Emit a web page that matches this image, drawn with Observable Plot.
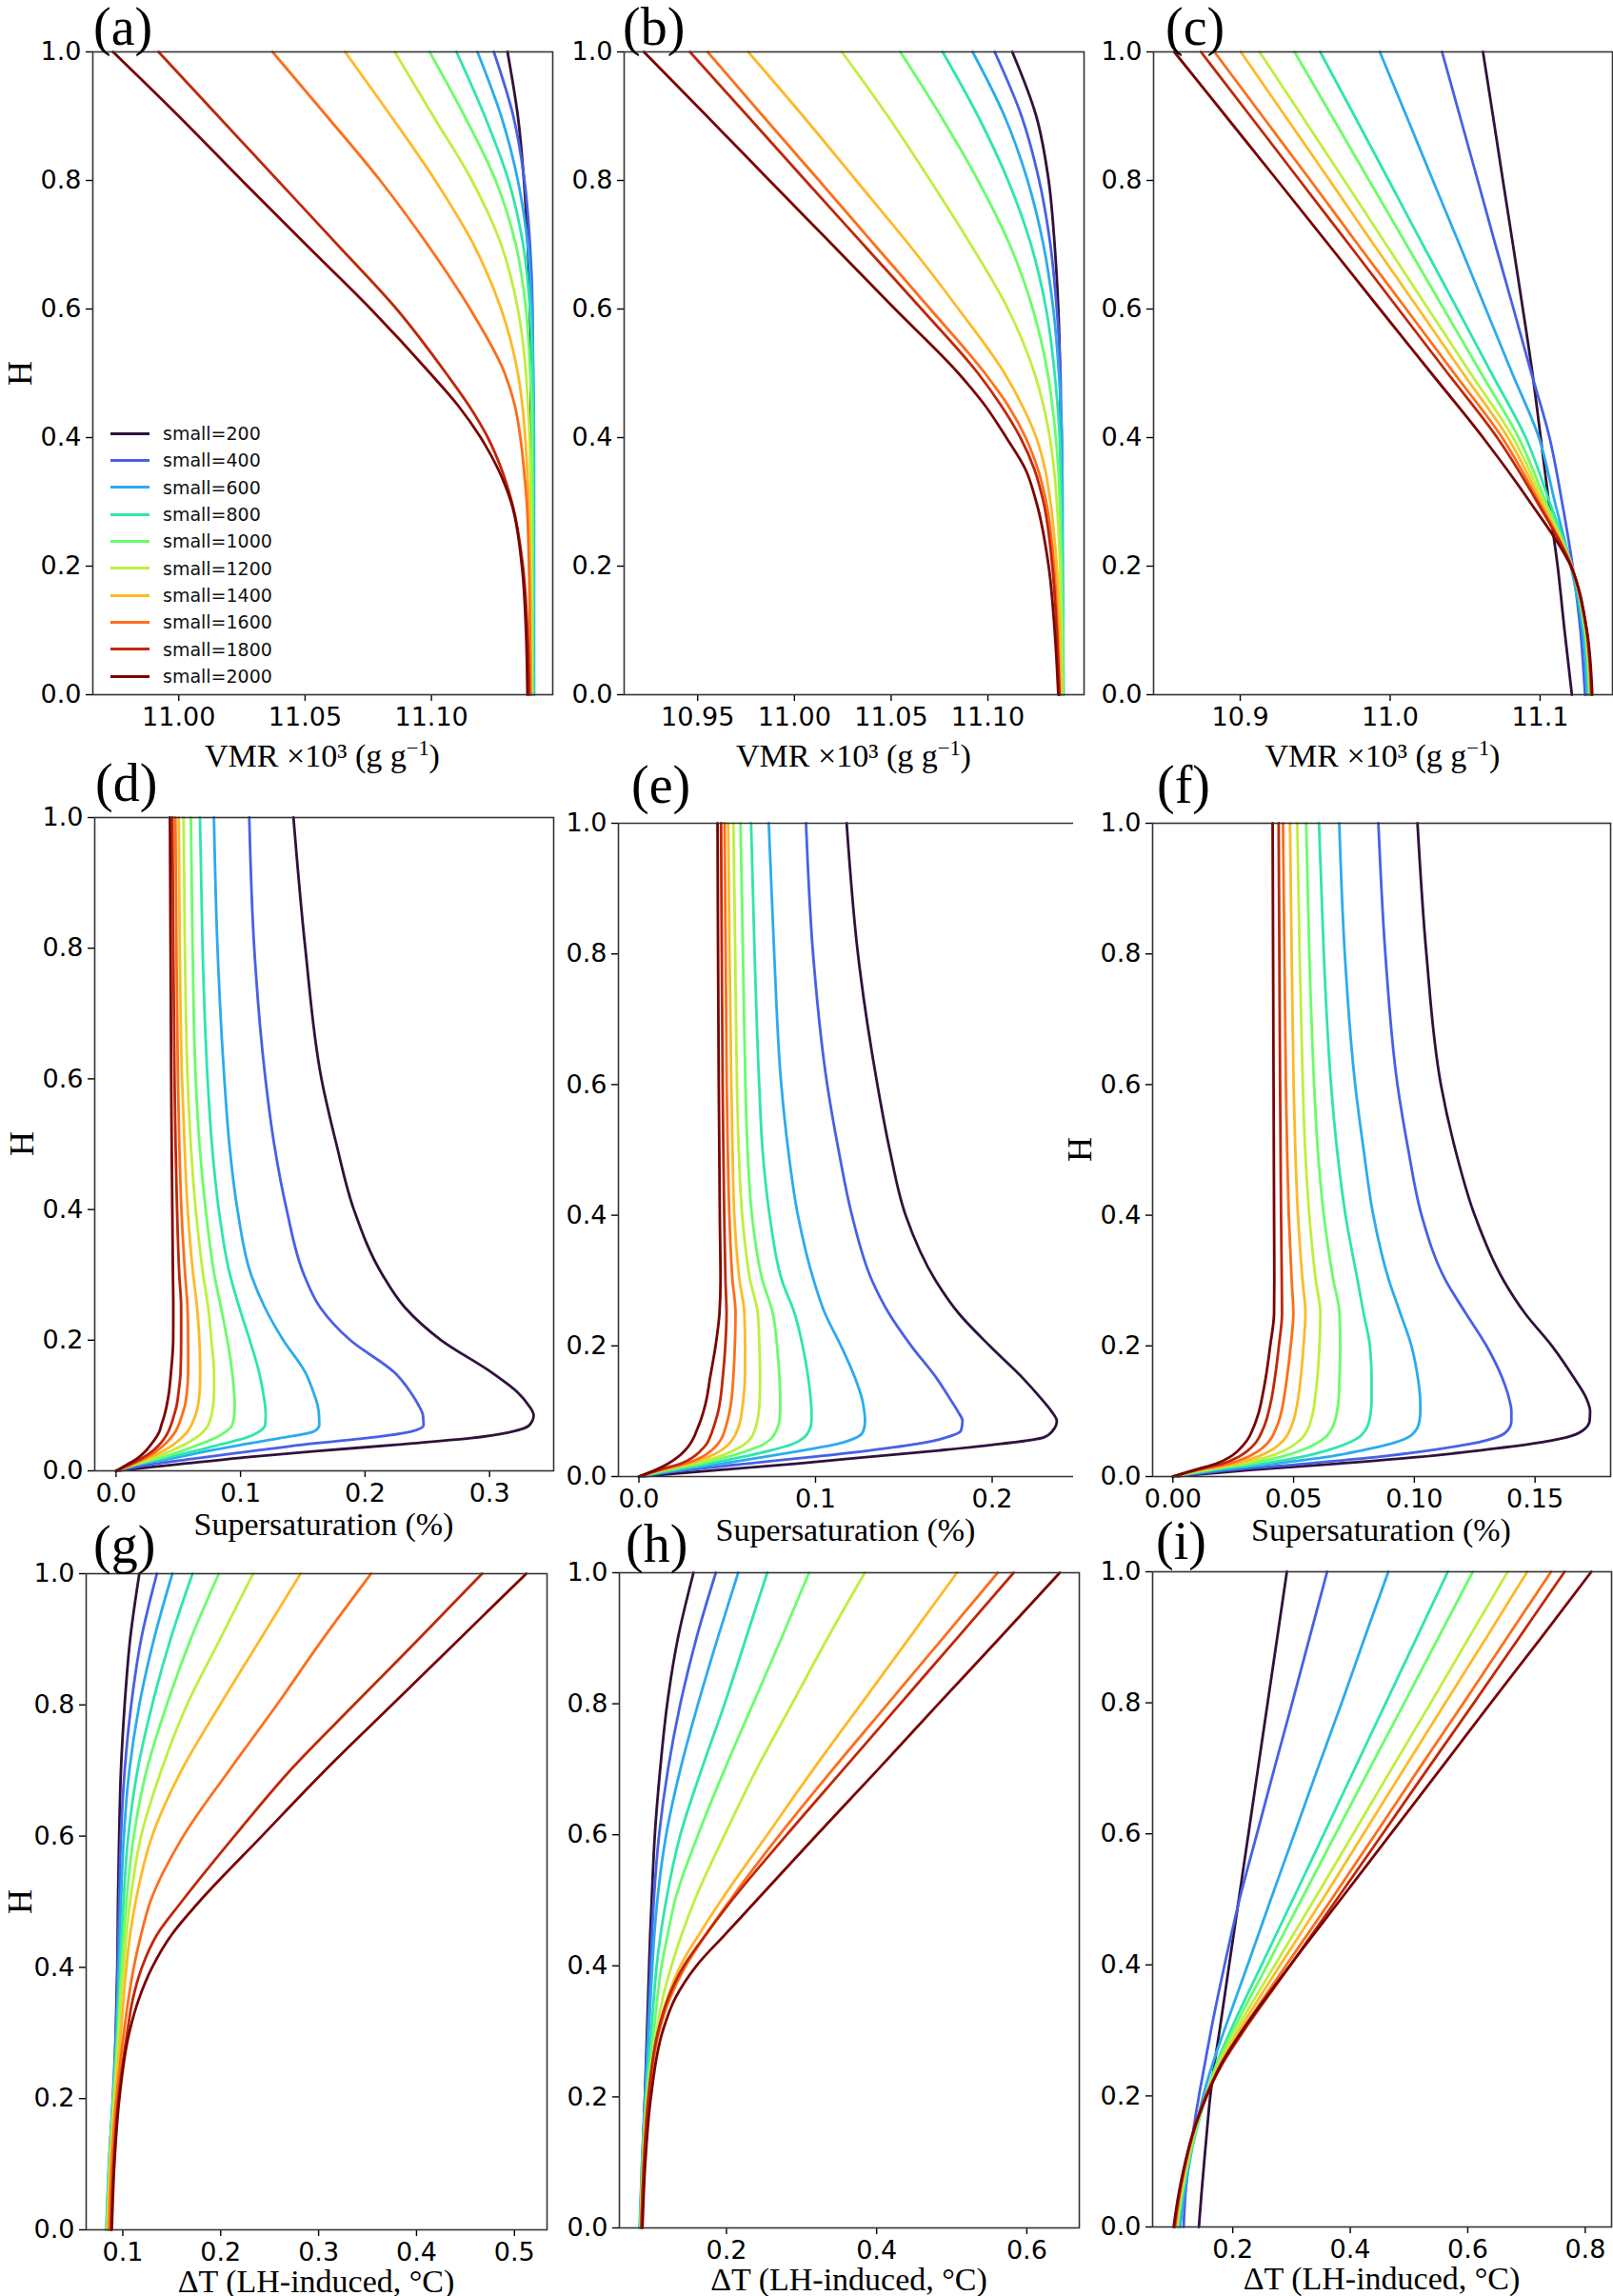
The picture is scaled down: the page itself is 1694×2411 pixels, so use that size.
<!DOCTYPE html>
<html>
<head>
<meta charset="utf-8">
<script src="https://cdn.jsdelivr.net/npm/d3@7"></script>
<script src="https://cdn.jsdelivr.net/npm/@observablehq/plot@0.6"></script>
<style>
  html, body { margin: 0; padding: 0; background: #fff; overflow: hidden; }
  #fig { position: relative; width: 1694px; height: 2411px; background: #fff; }
  .axlbl { position: absolute; font-family: "Liberation Serif", "Times New Roman", serif; font-size: 34px; line-height: 1; color: #000; white-space: nowrap; transform: translate(-50%, -50%); }
  .axlbl .sup { font-size: 0.66em; position: relative; top: -0.55em; }
  .letter { position: absolute; font-family: "Liberation Serif", "Times New Roman", serif; font-size: 56px; line-height: 1; color: #000; transform: translate(0, -50%); }
  .legtxt { position: absolute; font-family: "DejaVu Sans", sans-serif; font-size: 19px; line-height: 1; color: #111; transform: translate(0, -50%); white-space: nowrap; }
  .legline { position: absolute; height: 0; width: 41px; }
</style>
</head>
<body>
<div id="fig"></div>
<script>
const smalls = [200, 400, 600, 800, 1000, 1200, 1400, 1600, 1800, 2000]
const lineColors = ['#30123b', '#4860e6', '#2aabee', '#2ee5ae', '#6afd6a', '#c0ee3e', '#feb927', '#fe6e1a', '#c1270a', '#7a0403']

const hTicks = [0, 0.2, 0.4, 0.6, 0.8, 1.0]

// H levels at which the curves were read
const hVmrAB = [0, 0.1, 0.2, 0.3, 0.35, 0.4, 0.45, 0.5, 0.6, 0.7, 0.8, 0.9, 1.0]
const hVmrC = [0, 0.1, 0.2, 0.3, 0.4, 0.5, 0.6, 0.7, 0.8, 0.9, 1.0]
const hSup = [0, 0.01, 0.02, 0.03, 0.04, 0.05, 0.06, 0.07, 0.085, 0.1, 0.12, 0.15, 0.2, 0.25, 0.3, 0.4, 0.5, 0.6, 0.8, 1.0]
const hDtGH = [0, 0.1, 0.2, 0.3, 0.35, 0.4, 0.45, 0.5, 0.6, 0.7, 0.8, 0.9, 1.0]
const hDtI = [0, 0.05, 0.1, 0.15, 0.2, 0.25, 0.3, 0.4, 0.5, 0.6, 0.7, 0.8, 0.9, 1.0]

// x tick labels
const ticksA = [11.00, 11.05, 11.10]
const ticksB = [10.95, 11.00, 11.05, 11.10]
const ticksC = [10.9, 11.0, 11.1]
const ticksD = [0.0, 0.1, 0.2, 0.3]
const ticksE = [0.0, 0.1, 0.2]
const ticksF = [0.00, 0.05, 0.10, 0.15]
const ticksG = [0.1, 0.2, 0.3, 0.4, 0.5]
const ticksH = [0.2, 0.4, 0.6]
const ticksI = [0.2, 0.4, 0.6, 0.8]

// (a) VMR x10^3, one row per small=200..2000
const vmrA = [
  [11.1395, 11.1395, 11.1395, 11.1395, 11.1395, 11.1395, 11.1394, 11.1394, 11.1390, 11.1381, 11.1366, 11.1342, 11.1301],
  [11.1404, 11.1404, 11.1404, 11.1404, 11.1404, 11.1404, 11.1403, 11.1402, 11.1400, 11.1390, 11.1368, 11.1324, 11.1247],
  [11.1406, 11.1406, 11.1406, 11.1406, 11.1406, 11.1406, 11.1405, 11.1403, 11.1397, 11.1381, 11.1342, 11.1276, 11.1182],
  [11.1403, 11.1403, 11.1403, 11.1403, 11.1403, 11.1403, 11.1402, 11.1400, 11.1390, 11.1363, 11.1305, 11.1211, 11.1099],
  [11.1400, 11.1400, 11.1400, 11.1400, 11.1399, 11.1398, 11.1396, 11.1391, 11.1374, 11.1334, 11.1254, 11.1131, 11.0993],
  [11.1397, 11.1397, 11.1396, 11.1394, 11.1391, 11.1388, 11.1382, 11.1374, 11.1342, 11.1276, 11.1160, 11.1007, 11.0855],
  [11.1394, 11.1392, 11.1390, 11.1385, 11.1379, 11.1371, 11.1360, 11.1342, 11.1276, 11.1167, 11.1015, 11.0840, 11.0658],
  [11.1392, 11.1390, 11.1386, 11.1377, 11.1366, 11.1352, 11.1330, 11.1290, 11.1153, 11.0985, 11.0797, 11.0586, 11.0371],
  [11.1387, 11.1380, 11.1362, 11.1318, 11.1278, 11.1223, 11.1148, 11.1058, 11.0862, 11.0628, 11.0392, 11.0156, 10.9920],
  [11.1380, 11.1374, 11.1358, 11.1315, 11.1265, 11.1195, 11.1105, 11.0995, 11.0760, 11.0504, 11.0250, 11.0000, 10.9740]
]

// (b)
const vmrB = [
  [11.1378, 11.1378, 11.1378, 11.1378, 11.1377, 11.1376, 11.1375, 11.1373, 11.1364, 11.1345, 11.1314, 11.1250, 11.1126],
  [11.1384, 11.1384, 11.1384, 11.1383, 11.1383, 11.1382, 11.1378, 11.1375, 11.1356, 11.1323, 11.1265, 11.1174, 11.1035],
  [11.1391, 11.1389, 11.1387, 11.1386, 11.1384, 11.1382, 11.1376, 11.1367, 11.1338, 11.1287, 11.1205, 11.1086, 11.0921],
  [11.1389, 11.1389, 11.1386, 11.1380, 11.1376, 11.1371, 11.1360, 11.1345, 11.1301, 11.1223, 11.1104, 11.0949, 11.0766],
  [11.1387, 11.1386, 11.1380, 11.1371, 11.1364, 11.1351, 11.1333, 11.1309, 11.1232, 11.1113, 11.0949, 11.0757, 11.0547],
  [11.1384, 11.1380, 11.1373, 11.1356, 11.1342, 11.1320, 11.1287, 11.1241, 11.1104, 11.0912, 11.0702, 11.0483, 11.0245],
  [11.1378, 11.1371, 11.1356, 11.1323, 11.1296, 11.1250, 11.1177, 11.1086, 11.0848, 11.0593, 11.0319, 11.0045, 10.9761],
  [11.1371, 11.1360, 11.1342, 11.1301, 11.1259, 11.1195, 11.1104, 11.0985, 11.0702, 11.0414, 11.0127, 10.9838, 10.9551],
  [11.1369, 11.1356, 11.1333, 11.1287, 11.1241, 11.1168, 11.1068, 11.0949, 11.0657, 11.0357, 11.0057, 10.9759, 10.9460],
  [11.1364, 11.1345, 11.1314, 11.1250, 11.1195, 11.1095, 11.0985, 11.0848, 11.0520, 11.0196, 10.9871, 10.9548, 10.9222]
]

// (c)
const vmrC = [
  [11.1212, 11.1163, 11.1117, 11.1058, 11.1004, 11.0949, 11.0885, 11.0819, 11.0752, 11.0686, 11.0619],
  [11.1300, 11.1269, 11.1217, 11.1146, 11.1063, 11.0942, 11.0823, 11.0702, 11.0584, 11.0465, 11.0346],
  [11.1312, 11.1284, 11.1205, 11.1098, 11.0992, 11.0814, 11.0638, 11.0463, 11.0285, 11.0109, 10.9931],
  [11.1324, 11.1295, 11.1212, 11.1063, 11.0904, 11.0676, 11.0448, 11.0218, 10.9991, 10.9763, 10.9533],
  [11.1331, 11.1300, 11.1212, 11.1039, 11.0856, 11.0607, 11.0358, 11.0109, 10.9860, 10.9611, 10.9362],
  [11.1336, 11.1305, 11.1212, 11.1023, 11.0819, 11.0536, 11.0254, 10.9974, 10.9694, 10.9412, 10.9129],
  [11.1338, 11.1307, 11.1210, 11.1008, 11.0785, 11.0486, 11.0190, 10.9891, 10.9597, 10.9300, 10.9004],
  [11.1340, 11.1310, 11.1208, 11.0992, 11.0747, 11.0427, 11.0107, 10.9786, 10.9469, 10.9148, 10.8828],
  [11.1343, 11.1310, 11.1208, 11.0980, 11.0714, 11.0384, 11.0055, 10.9727, 10.9397, 10.9068, 10.8738],
  [11.1348, 11.1312, 11.1205, 11.0932, 11.0619, 11.0275, 10.9931, 10.9590, 10.9248, 10.8904, 10.8560]
]

// (d) supersaturation %
const supD = [
  [0, 0.050, 0.100, 0.160, 0.225, 0.285, 0.318, 0.332, 0.3354, 0.3315, 0.3226, 0.3021, 0.2611, 0.2320, 0.2140, 0.1910, 0.1770, 0.1650, 0.1520, 0.1425],
  [0, 0.0292, 0.0676, 0.1086, 0.1496, 0.2009, 0.2367, 0.2470, 0.2465, 0.2431, 0.2367, 0.2239, 0.1881, 0.1640, 0.1510, 0.1370, 0.1270, 0.1200, 0.1110, 0.1070],
  [0, 0.0190, 0.0471, 0.0728, 0.1009, 0.1317, 0.1586, 0.1632, 0.1630, 0.1619, 0.1586, 0.1522, 0.1343, 0.1195, 0.1085, 0.0975, 0.0910, 0.0870, 0.0815, 0.0786],
  [0, 0.0164, 0.0395, 0.0625, 0.0830, 0.1035, 0.1150, 0.1197, 0.1202, 0.1197, 0.1181, 0.1150, 0.1074, 0.0990, 0.0915, 0.0825, 0.0770, 0.0735, 0.0695, 0.0674],
  [0, 0.0155, 0.0356, 0.0523, 0.0664, 0.0792, 0.0881, 0.0933, 0.0950, 0.0953, 0.0948, 0.0933, 0.0894, 0.0843, 0.0790, 0.0720, 0.0670, 0.0640, 0.0615, 0.0601],
  [0, 0.0151, 0.0305, 0.0433, 0.0548, 0.0638, 0.0702, 0.0740, 0.0766, 0.0779, 0.0787, 0.0787, 0.0766, 0.0740, 0.0700, 0.0640, 0.0600, 0.0575, 0.0553, 0.0542],
  [0, 0.0138, 0.0266, 0.0374, 0.0459, 0.0523, 0.0574, 0.0605, 0.0638, 0.0658, 0.0671, 0.0676, 0.0669, 0.0651, 0.0620, 0.0575, 0.0550, 0.0530, 0.0512, 0.0503],
  [0, 0.0126, 0.0241, 0.0323, 0.0389, 0.0438, 0.0477, 0.0502, 0.0530, 0.0553, 0.0569, 0.0579, 0.0579, 0.0574, 0.0555, 0.0525, 0.0508, 0.0497, 0.0485, 0.0477],
  [0, 0.0113, 0.0215, 0.0292, 0.0348, 0.0389, 0.0420, 0.0441, 0.0466, 0.0487, 0.0502, 0.0518, 0.0523, 0.0523, 0.0508, 0.0490, 0.0478, 0.0470, 0.0460, 0.0453],
  [0, 0.0092, 0.0177, 0.0236, 0.0279, 0.0318, 0.0348, 0.0364, 0.0389, 0.0407, 0.0425, 0.0441, 0.0459, 0.0460, 0.0457, 0.0452, 0.0447, 0.0443, 0.0438, 0.0433]
]

// (e)
const supE = [
  [0, 0.045, 0.090, 0.130, 0.170, 0.205, 0.2293, 0.2342, 0.2366, 0.2335, 0.2275, 0.2176, 0.1986, 0.1810, 0.1680, 0.1510, 0.1420, 0.1350, 0.1240, 0.1176],
  [0, 0.0275, 0.0619, 0.0981, 0.1307, 0.1578, 0.1741, 0.1823, 0.1832, 0.1805, 0.1759, 0.1687, 0.1542, 0.1415, 0.1320, 0.1206, 0.1130, 0.1066, 0.0986, 0.0946],
  [0, 0.0221, 0.0474, 0.0710, 0.0927, 0.1126, 0.1234, 0.1271, 0.1280, 0.1276, 0.1262, 0.1225, 0.1144, 0.1053, 0.0990, 0.0900, 0.0845, 0.0806, 0.0766, 0.0735],
  [0, 0.0185, 0.0402, 0.0583, 0.0746, 0.0872, 0.0936, 0.0963, 0.0977, 0.0977, 0.0972, 0.0959, 0.0927, 0.0881, 0.0810, 0.0740, 0.0700, 0.0681, 0.0655, 0.0635],
  [0, 0.0157, 0.0348, 0.0501, 0.0619, 0.0709, 0.0755, 0.0778, 0.0795, 0.0800, 0.0800, 0.0796, 0.0782, 0.0758, 0.0700, 0.0640, 0.0615, 0.0603, 0.0589, 0.0575],
  [0, 0.0139, 0.0311, 0.0447, 0.0538, 0.0601, 0.0637, 0.0655, 0.0670, 0.0679, 0.0684, 0.0686, 0.0682, 0.0673, 0.0630, 0.0585, 0.0565, 0.0555, 0.0545, 0.0535],
  [0, 0.0130, 0.0284, 0.0393, 0.0465, 0.0510, 0.0538, 0.0556, 0.0574, 0.0583, 0.0592, 0.0600, 0.0601, 0.0597, 0.0570, 0.0540, 0.0530, 0.0523, 0.0513, 0.0505],
  [0, 0.0121, 0.0266, 0.0357, 0.0411, 0.0447, 0.0471, 0.0485, 0.0501, 0.0514, 0.0525, 0.0534, 0.0543, 0.0547, 0.0530, 0.0512, 0.0503, 0.0497, 0.0491, 0.0485],
  [0, 0.0112, 0.0239, 0.0308, 0.0351, 0.0384, 0.0402, 0.0416, 0.0434, 0.0449, 0.0462, 0.0474, 0.0489, 0.0496, 0.0490, 0.0483, 0.0478, 0.0474, 0.0469, 0.0465],
  [0, 0.0094, 0.0167, 0.0221, 0.0261, 0.0290, 0.0311, 0.0326, 0.0348, 0.0366, 0.0384, 0.0402, 0.0434, 0.0456, 0.0462, 0.0458, 0.0455, 0.0452, 0.0448, 0.0445]
]

// (f)
const supF = [
  [0, 0.0320, 0.0690, 0.1021, 0.1272, 0.1484, 0.1630, 0.1696, 0.1726, 0.1728, 0.1712, 0.1663, 0.1570, 0.1458, 0.1370, 0.1250, 0.1170, 0.1110, 0.1050, 0.1013],
  [0, 0.0241, 0.0558, 0.0849, 0.1061, 0.1233, 0.1339, 0.1385, 0.1402, 0.1402, 0.1392, 0.1365, 0.1299, 0.1213, 0.1130, 0.1030, 0.0975, 0.0930, 0.0880, 0.0851],
  [0, 0.0188, 0.0426, 0.0638, 0.0783, 0.0902, 0.0975, 0.1005, 0.1021, 0.1025, 0.1024, 0.1015, 0.0988, 0.0942, 0.0895, 0.0830, 0.0790, 0.0755, 0.0712, 0.0689],
  [0, 0.0161, 0.0373, 0.0532, 0.0638, 0.0717, 0.0770, 0.0796, 0.0813, 0.0820, 0.0823, 0.0823, 0.0816, 0.0790, 0.0765, 0.0715, 0.0680, 0.0655, 0.0625, 0.0605],
  [0, 0.0142, 0.0320, 0.0446, 0.0532, 0.0591, 0.0631, 0.0653, 0.0671, 0.0680, 0.0687, 0.0690, 0.0693, 0.0690, 0.0665, 0.0625, 0.0600, 0.0585, 0.0565, 0.0552],
  [0, 0.0128, 0.0287, 0.0393, 0.0463, 0.0508, 0.0538, 0.0556, 0.0571, 0.0581, 0.0589, 0.0598, 0.0607, 0.0611, 0.0592, 0.0565, 0.0548, 0.0538, 0.0525, 0.0515],
  [0, 0.0115, 0.0261, 0.0349, 0.0406, 0.0443, 0.0468, 0.0483, 0.0499, 0.0509, 0.0519, 0.0529, 0.0541, 0.0549, 0.0537, 0.0518, 0.0507, 0.0500, 0.0492, 0.0485],
  [0, 0.0106, 0.0234, 0.0310, 0.0357, 0.0389, 0.0410, 0.0423, 0.0439, 0.0450, 0.0460, 0.0472, 0.0488, 0.0499, 0.0492, 0.0480, 0.0473, 0.0468, 0.0462, 0.0456],
  [0, 0.0095, 0.0208, 0.0271, 0.0311, 0.0339, 0.0357, 0.0370, 0.0386, 0.0397, 0.0409, 0.0422, 0.0439, 0.0452, 0.0451, 0.0448, 0.0446, 0.0444, 0.0441, 0.0438],
  [0, 0.0089, 0.0181, 0.0237, 0.0271, 0.0296, 0.0315, 0.0328, 0.0344, 0.0357, 0.0369, 0.0384, 0.0403, 0.0419, 0.0420, 0.0419, 0.0418, 0.0417, 0.0415, 0.0413]
]

// (g) delta T, LH-induced
const dtG = [
  [0.0880, 0.0891, 0.0910, 0.0929, 0.0936, 0.0944, 0.0948, 0.0951, 0.0963, 0.0981, 0.1019, 0.1075, 0.1169],
  [0.0839, 0.0861, 0.0899, 0.0929, 0.0940, 0.0948, 0.0955, 0.0963, 0.0981, 0.1019, 0.1086, 0.1187, 0.1348],
  [0.0831, 0.0858, 0.0899, 0.0936, 0.0948, 0.0959, 0.0970, 0.0981, 0.1011, 0.1067, 0.1169, 0.1318, 0.1506],
  [0.0835, 0.0861, 0.0903, 0.0944, 0.0959, 0.0974, 0.0989, 0.1007, 0.1056, 0.1150, 0.1300, 0.1487, 0.1712],
  [0.0839, 0.0865, 0.0906, 0.0951, 0.0970, 0.0989, 0.1011, 0.1037, 0.1112, 0.1243, 0.1449, 0.1693, 0.1981],
  [0.0843, 0.0869, 0.0914, 0.0963, 0.0981, 0.1011, 0.1037, 0.1075, 0.1187, 0.1393, 0.1655, 0.1993, 0.2330],
  [0.0850, 0.0876, 0.0925, 0.0981, 0.1007, 0.1037, 0.1075, 0.1131, 0.1300, 0.1599, 0.1993, 0.2404, 0.2816],
  [0.0861, 0.0888, 0.0936, 0.1011, 0.1056, 0.1112, 0.1187, 0.1281, 0.1618, 0.2086, 0.2573, 0.3041, 0.3536],
  [0.0880, 0.0906, 0.0955, 0.1045, 0.1100, 0.1195, 0.1350, 0.1600, 0.2140, 0.2708, 0.3360, 0.4019, 0.4670],
  [0.0888, 0.0914, 0.0965, 0.1065, 0.1160, 0.1300, 0.1500, 0.1780, 0.2420, 0.3064, 0.3749, 0.4434, 0.5120]
]

// (h)
const dtH = [
  [0.0867, 0.0885, 0.0914, 0.0942, 0.0956, 0.0970, 0.0985, 0.1004, 0.1046, 0.1117, 0.1211, 0.1353, 0.1561],
  [0.0848, 0.0876, 0.0914, 0.0952, 0.0970, 0.0989, 0.1008, 0.1032, 0.1103, 0.1221, 0.1386, 0.1599, 0.1858],
  [0.0843, 0.0876, 0.0919, 0.0966, 0.0989, 0.1013, 0.1041, 0.1079, 0.1197, 0.1386, 0.1622, 0.1882, 0.2156],
  [0.0848, 0.0881, 0.0928, 0.0999, 0.1032, 0.1070, 0.1126, 0.1197, 0.1386, 0.1669, 0.1976, 0.2260, 0.2543],
  [0.0852, 0.0885, 0.0937, 0.1032, 0.1079, 0.1136, 0.1221, 0.1315, 0.1622, 0.1976, 0.2354, 0.2732, 0.3100],
  [0.0857, 0.0890, 0.0947, 0.1070, 0.1150, 0.1268, 0.1410, 0.1575, 0.1976, 0.2401, 0.2874, 0.3346, 0.3842],
  [0.0862, 0.0895, 0.0956, 0.1089, 0.1211, 0.1386, 0.1646, 0.1929, 0.2543, 0.3157, 0.3795, 0.4432, 0.5070],
  [0.0867, 0.0900, 0.0966, 0.1103, 0.1244, 0.1457, 0.1740, 0.2047, 0.2708, 0.3417, 0.4149, 0.4881, 0.5613],
  [0.0867, 0.0900, 0.0961, 0.1089, 0.1221, 0.1433, 0.1740, 0.2071, 0.2803, 0.3558, 0.4314, 0.5070, 0.5825],
  [0.0881, 0.0919, 0.0994, 0.1150, 0.1315, 0.1599, 0.2000, 0.2401, 0.3204, 0.4021, 0.4824, 0.5636, 0.6439]
]

// (i)
const dtI = [
  [0.1424, 0.1467, 0.1515, 0.1564, 0.1618, 0.1691, 0.1776, 0.1939, 0.2103, 0.2267, 0.2430, 0.2594, 0.2758, 0.2921],
  [0.1164, 0.1194, 0.1255, 0.1333, 0.1424, 0.1527, 0.1630, 0.1861, 0.2115, 0.2412, 0.2709, 0.3012, 0.3309, 0.3606],
  [0.1103, 0.1176, 0.1267, 0.1376, 0.1497, 0.1661, 0.1855, 0.2255, 0.2648, 0.3048, 0.3448, 0.3855, 0.4248, 0.4648],
  [0.1073, 0.1145, 0.1255, 0.1388, 0.1545, 0.1727, 0.1964, 0.2491, 0.3024, 0.3552, 0.4079, 0.4606, 0.5133, 0.5661],
  [0.1055, 0.1133, 0.1242, 0.1376, 0.1545, 0.1739, 0.2006, 0.2588, 0.3170, 0.3752, 0.4333, 0.4921, 0.5503, 0.6085],
  [0.1042, 0.1121, 0.1230, 0.1364, 0.1545, 0.1770, 0.2060, 0.2720, 0.3390, 0.4050, 0.4709, 0.5370, 0.6024, 0.6679],
  [0.1030, 0.1109, 0.1218, 0.1358, 0.1545, 0.1788, 0.2110, 0.2810, 0.3530, 0.4225, 0.4920, 0.5620, 0.6321, 0.7012],
  [0.1018, 0.1097, 0.1206, 0.1352, 0.1545, 0.1812, 0.2160, 0.2915, 0.3680, 0.4430, 0.5175, 0.5930, 0.6673, 0.7418],
  [0.1006, 0.1091, 0.1200, 0.1345, 0.1545, 0.1830, 0.2190, 0.2985, 0.3770, 0.4550, 0.5325, 0.6105, 0.6879, 0.7648],
  [0.0994, 0.1079, 0.1194, 0.1345, 0.1558, 0.1812, 0.2164, 0.2982, 0.3836, 0.4691, 0.5545, 0.6394, 0.7255, 0.8103]
]

const vmrLabel = 'VMR ×10³ (g g<span class="sup">−1</span>)'
const supLabel = 'Supersaturation (%)'
const dtLabel = 'ΔT (LH-induced, °C)'

// box = frame [left, top, right, bottom] on the page
const panels = [
  {id: 'a', box: [97, 54, 580, 729], domain: [10.966, 11.148], ticks: ticksA, fmt: '.2f', h: hVmrAB, vals: vmrA, xlabel: vmrLabel, lblOff: 65, letterDx: 1, letterDy: 26, ylab: true, legend: true},
  {id: 'b', box: [655, 54, 1138, 729], domain: [10.912, 11.1497], ticks: ticksB, fmt: '.2f', h: hVmrAB, vals: vmrB, xlabel: vmrLabel, lblOff: 65, letterDx: -1, letterDy: 26},
  {id: 'c', box: [1211, 54, 1693, 729], domain: [10.8422, 11.1483], ticks: ticksC, fmt: '.1f', h: hVmrC, vals: vmrC, xlabel: vmrLabel, lblOff: 65, letterDx: 13, letterDy: 26},
  {id: 'd', box: [99, 858, 581, 1544], domain: [-0.0171, 0.3515], ticks: ticksD, fmt: '.1f', h: hSup, vals: supD, xlabel: supLabel, lblOff: 57, letterDx: 1, letterDy: 36, ylab: true},
  {id: 'e', box: [649, 864, 1127, 1550], domain: [-0.0116, 0.2461], ticks: ticksE, fmt: '.1f', h: hSup, vals: supE, xlabel: supLabel, lblOff: 57, letterDx: 14, letterDy: 40, openRight: true},
  {id: 'f', box: [1210, 864, 1691, 1550], domain: [-0.0084, 0.1813], ticks: ticksF, fmt: '.2f', h: hSup, vals: supF, xlabel: supLabel, lblOff: 57, letterDx: 5, letterDy: 40, ylab: true},
  {id: 'g', box: [90, 1652, 574, 2341], domain: [0.0626, 0.5333], ticks: ticksG, fmt: '.1f', h: hDtGH, vals: dtG, xlabel: dtLabel, lblOff: 55, letterDx: 8, letterDy: 30, ylab: true},
  {id: 'h', box: [650, 1651, 1133, 2339], domain: [0.0574, 0.6699], ticks: ticksH, fmt: '.1f', h: hDtGH, vals: dtH, xlabel: dtLabel, lblOff: 55, letterDx: 7, letterDy: 30},
  {id: 'i', box: [1210, 1650, 1692, 2338], domain: [0.0636, 0.8448], ticks: ticksI, fmt: '.1f', h: hDtI, vals: dtI, xlabel: dtLabel, lblOff: 55, letterDx: 4, letterDy: 32}
]

const fig = document.getElementById('fig')
const spine = '#333'

function addDiv(cls, html, x, y, extra) {
  const d = document.createElement('div')
  d.className = cls
  d.innerHTML = html
  d.style.left = x + 'px'
  d.style.top = y + 'px'
  if (extra) Object.assign(d.style, extra)
  fig.appendChild(d)
  return d
}

function drawPanel(p) {
  const [left, top, right, bottom] = p.box
  const m = {l: 80, r: 14, t: 14, b: 50}

  const rows = p.vals.flatMap((series, i) =>
    series.map((v, j) => ({small: smalls[i], H: p.h[j], v})))

  const marks = [
    Plot.line(rows, {x: 'v', y: 'H', z: 'small', stroke: 'small', strokeWidth: 2.8, curve: 'monotone-y'}),
    Plot.axisX({ticks: p.ticks, tickFormat: d3.format(p.fmt), tickSize: 7, tickPadding: 6, strokeWidth: 1.4, label: null}),
    Plot.axisY({ticks: hTicks, tickFormat: d3.format('.1f'), tickSize: 7, tickPadding: 5, strokeWidth: 1.4, label: null})
  ]
  if (p.openRight) {
    // panel (e) has no right spine
    marks.push(Plot.ruleY([0, 1], {stroke: spine, strokeWidth: 1.6}))
    marks.push(Plot.ruleX([p.domain[0]], {stroke: spine, strokeWidth: 1.6}))
  } else {
    marks.push(Plot.frame({stroke: spine, strokeWidth: 1.6}))
  }

  const chart = Plot.plot({
    width: right - left + m.l + m.r,
    height: bottom - top + m.t + m.b,
    marginLeft: m.l, marginRight: m.r, marginTop: m.t, marginBottom: m.b,
    x: {domain: p.domain},
    y: {domain: [0, 1]},
    color: {type: 'ordinal', domain: smalls, range: lineColors},
    style: {
      position: 'absolute', left: (left - m.l) + 'px', top: (top - m.t) + 'px',
      fontFamily: '"DejaVu Sans", sans-serif', fontSize: '27px', color: '#000',
      background: 'transparent', overflow: 'visible', maxWidth: 'none'
    },
    marks
  })
  fig.appendChild(chart)

  // axis titles and panel letter
  addDiv('axlbl', p.xlabel, (left + right) / 2, bottom + p.lblOff)
  if (p.ylab) addDiv('axlbl', 'H', Math.max(left - 75, 22), (top + bottom) / 2, {fontSize: '36px', lineHeight: '0.72', transform: 'translate(-50%, -50%) rotate(-90deg)'})
  addDiv('letter', '(' + p.id + ')', left + p.letterDx, top - p.letterDy)

  if (p.legend) {
    smalls.forEach((s, i) => {
      const y = top + 401 + i * 28.35
      addDiv('legline', '', left + 18.5, y - 1.5, {borderTop: '3px solid ' + lineColors[i]})
      addDiv('legtxt', 'small=' + s, left + 74, y)
    })
  }
}

panels.forEach(drawPanel)
</script>
</body>
</html>
